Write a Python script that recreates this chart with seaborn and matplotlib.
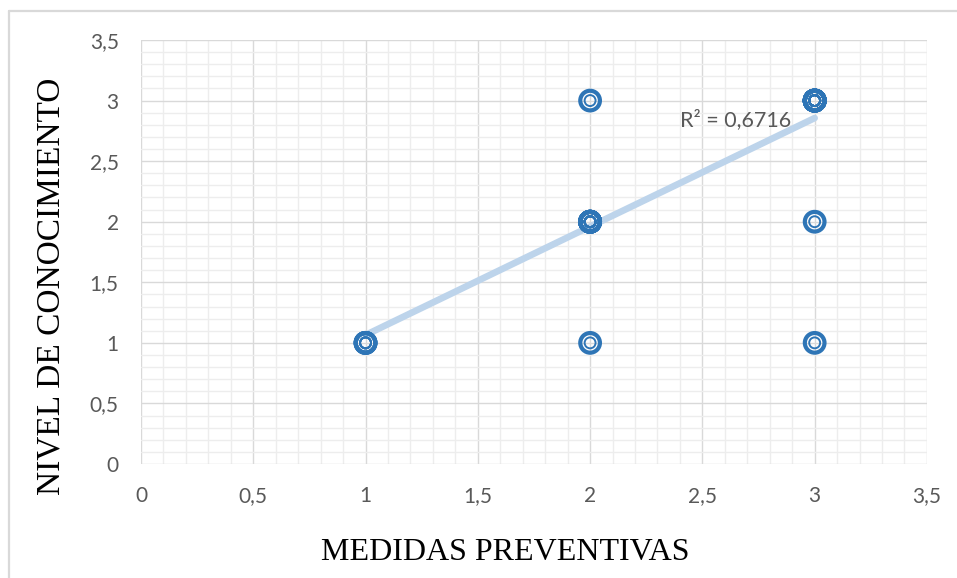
import numpy as np
import pandas as pd
import matplotlib
matplotlib.use("Agg")
import matplotlib.pyplot as plt
from matplotlib.ticker import MultipleLocator, FuncFormatter
from matplotlib.lines import Line2D
import seaborn as sns

# respuestas (medidas, conocimiento) y cuántas veces se repite cada par
medidas = [1, 2, 2, 2, 3, 3, 3]
conocimiento = [1, 1, 2, 3, 1, 2, 3]
repeticiones = [4, 1, 11, 1, 1, 1, 17]

df = pd.DataFrame({"medidas": np.repeat(medidas, repeticiones),
                   "conocimiento": np.repeat(conocimiento, repeticiones)})

sns.set_theme(style="white")
plt.rcParams["font.family"] = ["Lato", "DejaVu Sans"]

blue = "#2E75B6"
fig = plt.figure(figsize=(9.57, 5.78), dpi=100)
ax = fig.add_axes([0.1473, 0.1972, 0.8213, 0.7336])

# linea de tendencia (minimos cuadrados)
sns.regplot(data=df, x="medidas", y="conocimiento", scatter=False, ci=None, ax=ax,
            line_kws=dict(color="#BDD4EB", lw=4.8, solid_capstyle="round", zorder=2))
sns.scatterplot(data=df, x="medidas", y="conocimiento", ax=ax, s=200, marker="o",
                facecolor="none", edgecolor=blue, linewidth=3.0, zorder=3)
sns.scatterplot(data=df, x="medidas", y="conocimiento", ax=ax, s=62, marker="o",
                facecolor="none", edgecolor=blue, linewidth=1.4, zorder=3)

r2 = np.corrcoef(df["medidas"], df["conocimiento"])[0, 1] ** 2
ax.text(2.895, 2.84, f"R² = {r2:.4f}".replace(".", ","), ha="right", va="center",
        fontsize=15.5, color="#595959", zorder=4)

ax.set_xlim(0, 3.5)
ax.set_ylim(0, 3.5)
ax.xaxis.set_major_locator(MultipleLocator(0.5))
ax.yaxis.set_major_locator(MultipleLocator(0.5))
ax.xaxis.set_minor_locator(MultipleLocator(0.1))
ax.yaxis.set_minor_locator(MultipleLocator(0.1))
fmt = FuncFormatter(lambda v, p: f"{v:g}".replace(".", ","))
ax.xaxis.set_major_formatter(fmt)
ax.yaxis.set_major_formatter(fmt)
ax.grid(which="major", color="#D9D9D9", lw=1.0)
ax.grid(which="minor", color="#EDEDED", lw=1.0)
ax.set_axisbelow(True)
for s in ax.spines.values():
    s.set_visible(False)
ax.tick_params(which="both", length=0, labelsize=15, labelcolor="#595959")
ax.tick_params(axis="x", pad=16)
ax.tick_params(axis="y", pad=16)

ax.set_xlabel("")
ax.set_ylabel("")
fig.text(505 / 957, 1 - 552 / 578, "MEDIDAS PREVENTIVAS", ha="center", va="center",
         family="Liberation Serif", fontsize=23, color="black")
fig.text(51 / 957, 1 - 286 / 578, "NIVEL DE CONOCIMIENTO", ha="center", va="center",
         rotation=90, family="Liberation Serif", fontsize=24, color="black")

# borde del area del grafico (solo se ve arriba y a la izquierda)
fig.add_artist(Line2D([9 / 957, 1], [1 - 11 / 578] * 2, color="#D9D9D9", lw=1.6))
fig.add_artist(Line2D([9 / 957] * 2, [0, 1 - 11 / 578], color="#D9D9D9", lw=1.6))

fig.savefig("out.png", dpi=100)
